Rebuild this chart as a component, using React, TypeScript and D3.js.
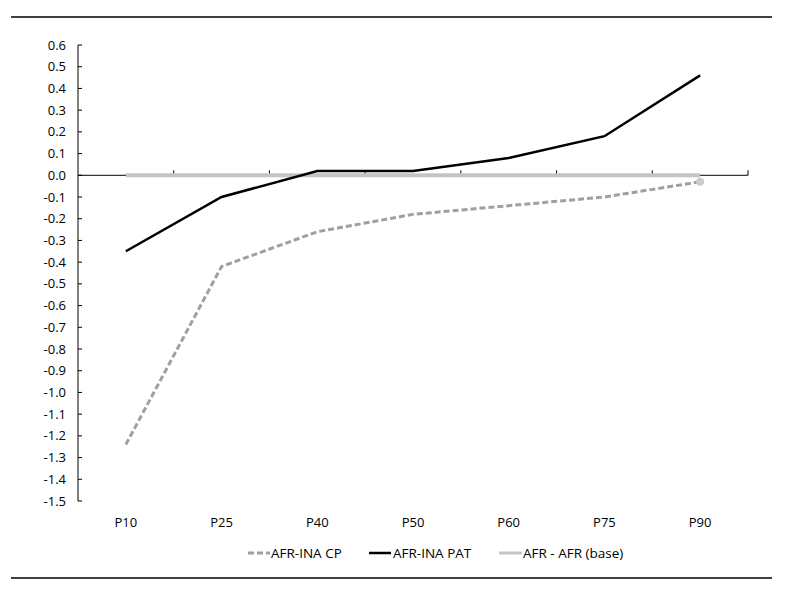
import React from "react";
import * as d3 from "d3";

const categories = ["P10", "P25", "P40", "P50", "P60", "P75", "P90"];
const cpValues = [-1.24, -0.42, -0.26, -0.18, -0.14, -0.10, -0.03];
const patValues = [-0.35, -0.10, 0.02, 0.02, 0.08, 0.18, 0.46];
const baseValues = [0, 0, 0, 0, 0, 0, 0];
const yTicks = d3.range(-15, 7).map((d) => d / 10);
const legendLabels = ["AFR-INA CP", "AFR-INA PAT", "AFR - AFR (base)"];

const W = 787, H = 598;
const left = 78, right = 748, top = 45, bottom = 501;
const FONT = "'Open Sans', 'DejaVu Sans', sans-serif";

export default function App() {
  const x = d3.scaleBand().domain(categories).range([left, right]);
  const y = d3.scaleLinear().domain([-1.5, 0.6]).range([bottom, top]);
  const cx = (c: string) => (x(c) as number) + x.bandwidth() / 2;
  const line = d3.line<number>().x((_, i) => cx(categories[i])).y((v) => y(v));
  const y0 = y(0);
  const bounds = categories.map((c) => x(c) as number).concat([right]);

  return (
    <div style={{ position: "absolute", left: 0, top: 0 }}>
      <svg width={W} height={H} style={{ display: "block", background: "#fff" }} fontFamily={FONT}>
        <line x1={11} x2={772} y1={17} y2={17} stroke="#000" strokeWidth={1.5} />
        <line x1={11} x2={772} y1={578} y2={578} stroke="#000" strokeWidth={1.5} />
        {/* y axis */}
        <line x1={left} x2={left} y1={top} y2={bottom} stroke="#000" strokeWidth={1} />
        {yTicks.map((t) => (
          <g key={t}>
            <line x1={left} x2={left + 4} y1={y(t)} y2={y(t)} stroke="#000" />
            <text x={66} y={y(t)} dy="0.35em" textAnchor="end" fontSize={13} fill="#000">
              {t.toFixed(1)}
            </text>
          </g>
        ))}
        {/* x axis at zero */}
        <line x1={left} x2={right} y1={y0} y2={y0} stroke="#000" strokeWidth={1} />
        {bounds.slice(1).map((b, i) => (
          <line key={i} x1={b} x2={b} y1={y0} y2={y0 - 5} stroke="#000" />
        ))}
        {categories.map((c) => (
          <text key={c} x={cx(c)} y={527} textAnchor="middle" fontSize={13} fill="#000">
            {c}
          </text>
        ))}
        {/* series */}
        <path d={line(baseValues) as string} fill="none" stroke="#c4c4c4" strokeWidth={4} />
        <path d={line(cpValues) as string} fill="none" stroke="#a0a0a0" strokeWidth={3} strokeDasharray="6,3" />
        <circle cx={cx(categories[6])} cy={y(cpValues[6])} r={4} fill="#cccccc" />
        <path d={line(patValues) as string} fill="none" stroke="#000" strokeWidth={2.5} />
        {/* legend */}
        <g fontSize={13.5}>
          <line x1={248} x2={270} y1={553} y2={553} stroke="#a0a0a0" strokeWidth={3} strokeDasharray="6,3" />
          <text x={271} y={553} dy="0.35em" fill="#000">{legendLabels[0]}</text>
          <line x1={369} x2={391} y1={553} y2={553} stroke="#000" strokeWidth={2.5} />
          <text x={393} y={553} dy="0.35em" fill="#000">{legendLabels[1]}</text>
          <line x1={499} x2={522} y1={553} y2={553} stroke="#c4c4c4" strokeWidth={3} />
          <text x={523} y={553} dy="0.35em" fill="#000">{legendLabels[2]}</text>
        </g>
      </svg>
    </div>
  );
}
